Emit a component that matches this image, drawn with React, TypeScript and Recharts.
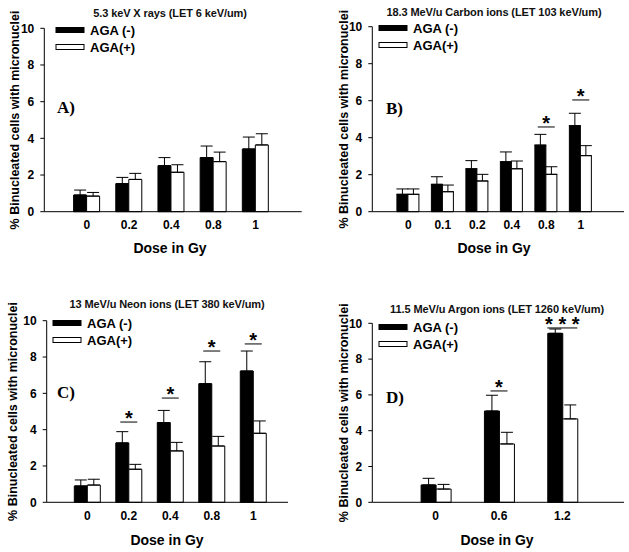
import { Bar, ComposedChart, ErrorBar, Line, XAxis, YAxis } from "recharts";

// Panel A: 5.3 keV X rays
const dosesA = ["0", "0.2", "0.4", "0.8", "1"];
const agaMinusA = [0.91, 1.53, 2.51, 2.95, 3.42];
const agaMinusErrA = [0.27, 0.34, 0.44, 0.63, 0.65];
const agaPlusA = [0.85, 1.76, 2.15, 2.73, 3.64];
const agaPlusErrA = [0.2, 0.33, 0.41, 0.52, 0.61];
const sigLevelA = [null, null, null, null, null];
const sigMarkA = ["", "", "", "", ""];

// Panel B: 18.3 MeV/u Carbon ions
const dosesB = ["0", "0.1", "0.2", "0.4", "0.8", "1"];
const agaMinusB = [0.94, 1.48, 2.32, 2.7, 3.6, 4.65];
const agaMinusErrB = [0.29, 0.41, 0.44, 0.53, 0.58, 0.67];
const agaPlusB = [0.94, 1.08, 1.66, 2.32, 2.02, 3.03];
const agaPlusErrB = [0.29, 0.36, 0.36, 0.42, 0.41, 0.54];
const sigLevelB = [null, null, null, null, 4.58, 6.04];
const sigMarkB = ["", "", "", "", "*", "*"];

// Panel C: 13 MeV/u Neon ions
const dosesC = ["0", "0.2", "0.4", "0.8", "1"];
const agaMinusC = [0.9, 3.27, 4.39, 6.53, 7.23];
const agaMinusErrC = [0.33, 0.62, 0.67, 1.21, 1.1];
const agaPlusC = [0.95, 1.82, 2.83, 3.1, 3.8];
const agaPlusErrC = [0.32, 0.27, 0.47, 0.53, 0.68];
const sigLevelC = [null, 4.42, 5.74, 8.33, 8.72];
const sigMarkC = ["", "*", "*", "*", "*"];

// Panel D: 11.5 MeV/u Argon ions
const dosesD = ["0", "0.6", "1.2"];
const agaMinusD = [0.97, 5.1, 9.44];
const agaMinusErrD = [0.37, 0.88, 0.24];
const agaPlusD = [0.74, 3.26, 4.66];
const agaPlusErrD = [0.26, 0.65, 0.78];
const sigLevelD = [null, 6.22, 9.74];
const sigMarkD = ["", "*", "* * *"];

const yTicks = [0, 2, 4, 6, 8, 10];

const makeRows = (
  doses: string[],
  minus: number[],
  minusErr: number[],
  plus: number[],
  plusErr: number[],
  sig: (number | null)[],
  mark: string[]
) =>
  doses.map((d, i) => ({
    dose: d,
    minus: minus[i],
    minusErr: [0, minusErr[i]],
    plus: plus[i],
    plusErr: [0, plusErr[i]],
    sig: sig[i],
    mark: mark[i],
  }));

const FONT = "'Liberation Sans', Arial, sans-serif";

const renderSig = (props: any) => {
  const { cx, cy, payload, index } = props;
  if (payload.sig == null || cy == null) return <g key={index} />;
  const half = payload.mark.length > 1 ? 15 : 8.5;
  return (
    <g key={index}>
      <line x1={cx - half} x2={cx + half} y1={cy} y2={cy} stroke="#000" strokeWidth={1} />
      <text x={cx} y={cy + 3} textAnchor="middle" fontSize={20} fontWeight="bold" fontFamily={FONT} fill="#000">
        {payload.mark}
      </text>
    </g>
  );
};

type PanelProps = {
  rows: any[];
  left: number;
  top: number;
  width: number;
  height: number;
  plot: { l: number; r: number; t: number; b: number };
  pad: { left: number; right: number };
  gap: string;
  title: string;
  titleX: number;
  titleY: number;
  legendX: number;
  legendY: number;
  tag: string;
  tagX: number;
  tagY: number;
  yLabelX: number;
  xLabelY: number;
};

function Panel(p: PanelProps) {
  const yAxisW = 30;
  const xAxisH = 30;
  const plotMidY = (p.plot.t + p.plot.b) / 2;
  const plotMidX = p.titleX;
  return (
    <div style={{ position: "absolute", left: p.left, top: p.top }}>
      <ComposedChart
        width={p.width}
        height={p.height}
        data={p.rows}
        barGap={0}
        barCategoryGap={p.gap}
        margin={{
          top: p.plot.t,
          bottom: p.height - p.plot.b - xAxisH,
          left: p.plot.l - yAxisW,
          right: p.width - p.plot.r,
        }}
      >
        <XAxis
          dataKey="dose"
          height={xAxisH}
          padding={p.pad}
          tickLine={false}
          tickMargin={3}
          axisLine={{ stroke: "#000" }}
          tick={{ fill: "#000", fontSize: 12, fontWeight: "bold", fontFamily: FONT }}
        />
        <YAxis
          width={yAxisW}
          domain={[0, 10]}
          ticks={yTicks}
          tickSize={4}
          tickMargin={6}
          axisLine={{ stroke: "#000" }}
          tickLine={{ stroke: "#000" }}
          tick={{ fill: "#000", fontSize: 12, fontWeight: "bold", fontFamily: FONT }}
        />
        <Bar dataKey="minus" name="AGA (-)" fill="#000" stroke="#000" isAnimationActive={false}>
          <ErrorBar dataKey="minusErr" width={6} stroke="#000" strokeWidth={1} />
        </Bar>
        <Bar dataKey="plus" name="AGA(+)" fill="#fff" stroke="#000" isAnimationActive={false}>
          <ErrorBar dataKey="plusErr" width={6} stroke="#000" strokeWidth={1} />
        </Bar>
        <Line dataKey="sig" stroke="none" dot={renderSig} activeDot={false} isAnimationActive={false} legendType="none" />

        <text
          x={p.titleX}
          y={p.titleY + 4}
          textAnchor="middle"
          fontSize={11}
          fontWeight="bold"
          letterSpacing={-0.1}
          fontFamily={FONT}
          fill="#111"
        >
          {p.title}
        </text>

        <rect x={p.legendX} y={p.legendY - 2.5} width={28} height={5} fill="#000" stroke="#000" />
        <text x={p.legendX + 34} y={p.legendY + 5} fontSize={13} fontWeight="bold" fontFamily={FONT} fill="#000">
          AGA (-)
        </text>
        <rect x={p.legendX} y={p.legendY + 14.5} width={28} height={5} fill="#fff" stroke="#000" />
        <text x={p.legendX + 34} y={p.legendY + 22} fontSize={13} fontWeight="bold" fontFamily={FONT} fill="#000">
          AGA(+)
        </text>

        <text x={p.tagX} y={p.tagY + 6} fontSize={17} fontWeight="bold" fontFamily="'Liberation Serif', 'Times New Roman', serif" fill="#000">
          {p.tag}
        </text>

        <text
          x={p.yLabelX}
          y={plotMidY}
          transform={`rotate(-90 ${p.yLabelX} ${plotMidY})`}
          textAnchor="middle"
          dominantBaseline="central"
          fontSize={12.5}
          fontWeight="bold"
          fontFamily={FONT}
          fill="#000"
        >
          % Binucleated cells with micronuclei
        </text>

        <text x={plotMidX} y={p.xLabelY + 5} textAnchor="middle" fontSize={14} fontWeight="bold" fontFamily={FONT} fill="#000">
          Dose in Gy
        </text>
      </ComposedChart>
    </div>
  );
}

export default function App() {
  return (
    <div style={{ position: "absolute", left: 0, top: 0, width: 629, height: 552, background: "#fff" }}>
      <Panel
        rows={makeRows(dosesA, agaMinusA, agaMinusErrA, agaPlusA, agaPlusErrA, sigLevelA, sigMarkA)}
        left={0}
        top={0}
        width={314}
        height={270}
        plot={{ l: 44.3, r: 301.7, t: 28.3, b: 211.7 }}
        pad={{ left: 21.5, right: 25 }}
        gap="18.5%"
        title="5.3 keV X rays (LET 6 keV/um)"
        titleX={170}
        titleY={12.7}
        legendX={56}
        legendY={30}
        tag="A)"
        tagX={57}
        tagY={107}
        yLabelX={15}
        xLabelY={248}
      />
      <Panel
        rows={makeRows(dosesB, agaMinusB, agaMinusErrB, agaPlusB, agaPlusErrB, sigLevelB, sigMarkB)}
        left={314}
        top={0}
        width={315}
        height={270}
        plot={{ l: 58.3, r: 310, t: 26.7, b: 211.7 }}
        pad={{ left: 18.75, right: 26 }}
        gap="17%"
        title="18.3 MeV/u Carbon ions (LET 103 keV/um)"
        titleX={180}
        titleY={11.7}
        legendX={65}
        legendY={28}
        tag="B)"
        tagX={72}
        tagY={108}
        yLabelX={30}
        xLabelY={248}
      />
      <Panel
        rows={makeRows(dosesC, agaMinusC, agaMinusErrC, agaPlusC, agaPlusErrC, sigLevelC, sigMarkC)}
        left={0}
        top={270}
        width={314}
        height={282}
        plot={{ l: 46.7, r: 288, t: 50.7, b: 232.3 }}
        pad={{ left: 19.85, right: 14 }}
        gap="18.7%"
        title="13 MeV/u Neon ions (LET 380 keV/um)"
        titleX={167}
        titleY={34}
        legendX={53}
        legendY={53}
        tag="C)"
        tagX={57}
        tagY={122}
        yLabelX={13}
        xLabelY={270}
      />
      <Panel
        rows={makeRows(dosesD, agaMinusD, agaMinusErrD, agaPlusD, agaPlusErrD, sigLevelD, sigMarkD)}
        left={314}
        top={270}
        width={315}
        height={282}
        plot={{ l: 58.3, r: 310, t: 53.3, b: 232.3 }}
        pad={{ left: 31.7, right: 30 }}
        gap="27%"
        title="11.5 MeV/u Argon ions (LET 1260 keV/um)"
        titleX={183}
        titleY={39}
        legendX={65}
        legendY={57}
        tag="D)"
        tagX={72}
        tagY={127}
        yLabelX={30}
        xLabelY={270}
      />
    </div>
  );
}
